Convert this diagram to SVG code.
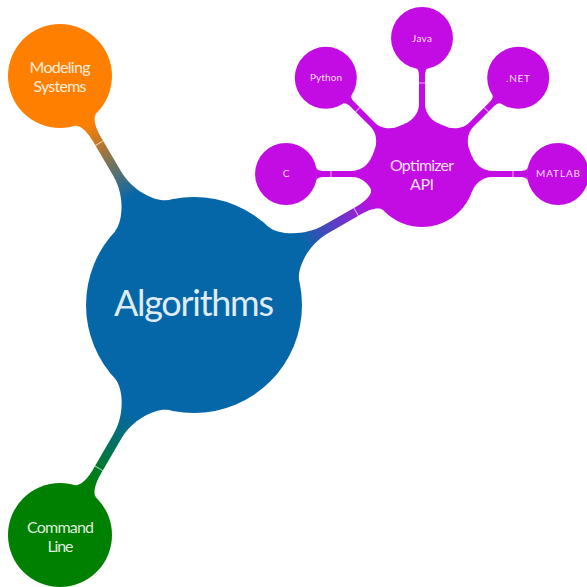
<svg xmlns="http://www.w3.org/2000/svg" xmlns:xlink="http://www.w3.org/1999/xlink" width="587" height="587" viewBox="0 0 587 587">
<style>
text{font-family:Lato,"Open Sans","Liberation Sans",sans-serif;fill:#fff;fill-opacity:0.88;text-anchor:middle}
.big{font-size:36px}
.mid{font-size:16px}
.sm{font-size:10px}
.tick{stroke:#fff;stroke-opacity:0.65;stroke-width:1}
.blue{fill:#0667a8}
.orange{fill:#ff8000}
.green{fill:#008000}
.purple{fill:#c30be3}
</style>
<defs>
<linearGradient id="gO" gradientUnits="userSpaceOnUse" x1="125" y1="0" x2="210" y2="0"><stop offset="0" stop-color="#0667a8"/><stop offset="1" stop-color="#ff8000"/></linearGradient>
<linearGradient id="gG" gradientUnits="userSpaceOnUse" x1="125" y1="0" x2="211" y2="0"><stop offset="0" stop-color="#0667a8"/><stop offset="1" stop-color="#008000"/></linearGradient>
<linearGradient id="gP" gradientUnits="userSpaceOnUse" x1="125" y1="0" x2="208" y2="0"><stop offset="0" stop-color="#0667a8"/><stop offset="1" stop-color="#c30be3"/></linearGradient>
<g id="small">
<path class="purple" d="M49.8,-18.13 C52.5,-10.6 60,-3 70,-3 L98,-3 C102,-3 105.16,-4 105.68,-6.45 L105.68,6.45 C105.16,4 102,3 98,3 L70,3 C60,3 52.5,10.6 49.8,18.13 Z"/>
<line class="tick" x1="91" y1="-3" x2="91" y2="3"/>
</g>
</defs>
<g id="connectors">
<g transform="translate(194,305) rotate(-120.34)">
<path fill="url(#gO)" d="M103.3,-31.6 C106.8,-20.1 128,-4.5 152,-4.5 L192,-4.5 C202,-4.5 213.1,-6.76 214.55,-12.58 L214.55,12.58 C213.1,6.76 202,4.5 192,4.5 L152,4.5 C128,4.5 106.8,20.1 103.3,31.6 Z"/>
<line class="tick" x1="187.5" y1="-4.5" x2="187.5" y2="4.5"/>
</g>
<g transform="translate(194,305) rotate(120.22)">
<path fill="url(#gG)" d="M103.3,-31.6 C106.8,-20.1 128,-4.5 152,-4.5 L193,-4.5 C203,-4.5 214.1,-6.76 215.55,-12.58 L215.55,12.58 C214.1,6.76 203,4.5 193,4.5 L152,4.5 C128,4.5 106.8,20.1 103.3,31.6 Z"/>
<line class="tick" x1="189" y1="-4.5" x2="189" y2="4.5"/>
</g>
<g transform="translate(194,305) rotate(-29.88)">
<path fill="url(#gP)" d="M103.3,-31.6 C106.8,-20.1 128,-4.5 152,-4.5 L190,-4.5 C200,-4.5 210.12,-7 211.57,-12.82 L211.57,12.82 C210.12,7 200,4.5 190,4.5 L152,4.5 C128,4.5 106.8,20.1 103.3,31.6 Z"/>
<line class="tick" x1="187" y1="-4.5" x2="187" y2="4.5"/>
</g>
<use xlink:href="#small" transform="translate(422,174) rotate(180)"/>
<use xlink:href="#small" transform="translate(422,174) rotate(-135)"/>
<use xlink:href="#small" transform="translate(422,174) rotate(-90)"/>
<use xlink:href="#small" transform="translate(422,174) rotate(-45)"/>
<use xlink:href="#small" transform="translate(422,174) rotate(0)"/>
</g>
<g id="algorithms">
<circle class="blue" cx="194" cy="305" r="108"/>
<text class="big" x="194" y="316" textLength="160">Algorithms</text>
</g>
<g id="modeling">
<circle class="orange" cx="60" cy="76" r="52"/>
<text class="mid" x="60" y="73.3" textLength="61">Modeling</text>
<text class="mid" x="60" y="92" textLength="53">Systems</text>
</g>
<g id="command">
<circle class="green" cx="60" cy="535" r="52"/>
<text class="mid" x="60.5" y="533" textLength="67">Command</text>
<text class="mid" x="60.5" y="552" textLength="26">Line</text>
</g>
<g id="optimizer">
<circle class="purple" cx="422" cy="174" r="53"/>
<text class="mid" x="422" y="171" textLength="64">Optimizer</text>
<text class="mid" x="422" y="190" textLength="24">API</text>
</g>
<g id="c">
<circle class="purple" cx="286" cy="174" r="31"/>
<text class="sm" x="286" y="177">C</text>
</g>
<g id="python">
<circle class="purple" cx="325.8" cy="77.8" r="31"/>
<text class="sm" x="326" y="81" textLength="32">Python</text>
</g>
<g id="java">
<circle class="purple" cx="422" cy="38" r="31"/>
<text class="sm" x="422" y="42.3" textLength="20">Java</text>
</g>
<g id="net">
<circle class="purple" cx="518.2" cy="77.8" r="31"/>
<text class="sm" x="518" y="82.3" textLength="24">.NET</text>
</g>
<g id="matlab">
<circle class="purple" cx="558" cy="174" r="31"/>
<text class="sm" x="558" y="177.3" textLength="44">MATLAB</text>
</g>
</svg>
